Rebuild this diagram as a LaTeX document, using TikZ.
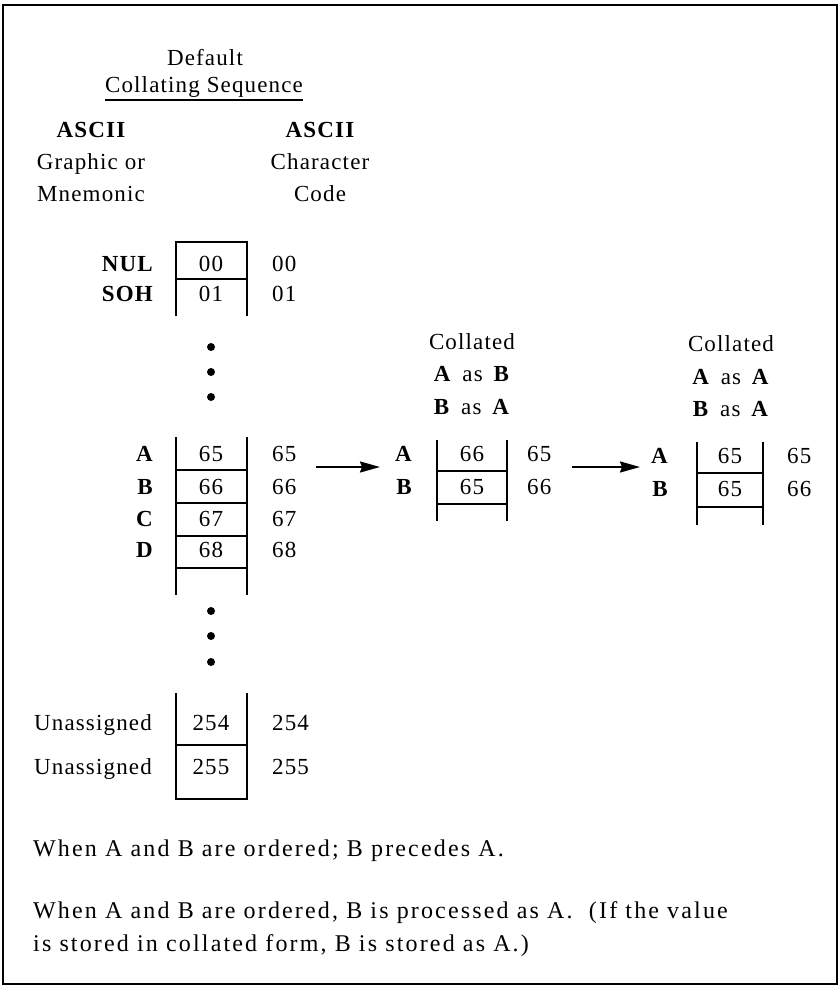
\documentclass[tikz,border=0pt]{standalone}
\usepackage{fontspec}
\setmainfont{Liberation Serif}[LetterSpace=5]
\newfontfamily\notefont{Liberation Serif}[LetterSpace=9]
\usetikzlibrary{arrows.meta}

\tikzset{
  txt/.style={font=\fontsize{23}{27}\selectfont,inner sep=0pt},
  hdr/.style={txt,anchor=base},
  rowlbl/.style={txt,anchor=base east,font=\fontsize{23}{27}\selectfont\bfseries},
  codeval/.style={txt,anchor=base west},
  cellnum/.style={txt,anchor=base},
  note/.style={inner sep=0pt,anchor=base west,font=\notefont\fontsize{24}{28}\selectfont},
  ladder/.style={line width=2pt},
  seqarrow/.style={line width=2pt,-{Stealth[length=20pt,width=11pt,inset=2pt]}}
}

\begin{document}
\begin{tikzpicture}[x=1pt,y=-1pt]
    \useasboundingbox(0,0)rectangle(839,986);
    \draw[line width=1.2pt](3,5)rectangle(837,984);
    % heading
    \node[hdr](dflt)at(205,65){Default};
    \node[hdr](colseq)at(204,92){Collating Sequence};
    \draw[line width=2pt]([yshift=-8pt]colseq.base west)--([yshift=-8pt]colseq.base east);
    \node[hdr](gfx1)at(91,137){\bfseries ASCII};
    \node[hdr](gfx2)at(91,169){Graphic or};
    \node[hdr](gfx3)at(91,201){Mnemonic};
    \node[hdr](chr1)at(320,137){\bfseries ASCII};
    \node[hdr](chr2)at(320,169){Character};
    \node[hdr](chr3)at(320,201){Code};
    % control characters
    \node[rowlbl](lnul)at(153,271){NUL};
    \node[cellnum](cnul)at(211,271){00};
    \node[codeval](vnul)at(272,271){00};
    \node[rowlbl](lsoh)at(153,301){SOH};
    \node[cellnum](csoh)at(211,301){01};
    \node[codeval](vsoh)at(272,301){01};
    \draw[ladder](176,316)--(176,242)--(247,242)--(247,316);
    \draw[ladder](176,279)--(247,279);
    \foreach \y in {347,372,397}
      \fill(211,\y)circle(4pt);
    % letters
    \foreach \ch/\num/\y in {A/65/461,B/66/494,C/67/526,D/68/557}{
      \node[rowlbl](l\ch)at(153,\y){\ch};
      \node[cellnum](c\ch)at(211,\y){\num};
      \node[codeval](v\ch)at(272,\y){\num};
    }
    \draw[ladder](176,437)--(176,595)(247,437)--(247,595);
    \foreach \y in {470,503,536,568}
      \draw[ladder](176,\y)--(247,\y);
    \foreach \y in {611,636,662}
      \fill(211,\y)circle(4pt);
    % unassigned codes
    \node[txt,anchor=base east](l254)at(152,730){Unassigned};
    \node[cellnum](c254)at(211,730){254};
    \node[codeval](v254)at(272,730){254};
    \node[txt,anchor=base east](l255)at(152,774){Unassigned};
    \node[cellnum](c255)at(211,774){255};
    \node[codeval](v255)at(272,774){255};
    \draw[ladder](176,693)--(176,799)--(247,799)--(247,693);
    \draw[ladder](176,745)--(247,745);
    % collated A as B
    \node[hdr](mid1)at(472,349){Collated};
    \node[hdr](mid2)at(472,381){\textbf{A}\, as\, \textbf{B}};
    \node[hdr](mid3)at(472,414){\textbf{B}\, as\, \textbf{A}};
    \node[rowlbl](mlA)at(412,461){A};
    \node[cellnum](mcA)at(472,461){66};
    \node[codeval](mvA)at(527,461){65};
    \node[rowlbl](mlB)at(412,494){B};
    \node[cellnum](mcB)at(472,494){65};
    \node[codeval](mvB)at(527,494){66};
    \draw[ladder](437,440)--(437,521)(507,440)--(507,521);
    \draw[ladder](437,471)--(507,471)(437,504)--(507,504);
    % collated A as A
    \node[hdr](rgt1)at(731,351){Collated};
    \node[hdr](rgt2)at(731,384){\textbf{A}\, as\, \textbf{A}};
    \node[hdr](rgt3)at(731,416){\textbf{B}\, as\, \textbf{A}};
    \node[rowlbl](rlA)at(668,463){A};
    \node[cellnum](rcA)at(730,463){65};
    \node[codeval](rvA)at(787,463){65};
    \node[rowlbl](rlB)at(668,496){B};
    \node[cellnum](rcB)at(730,496){65};
    \node[codeval](rvB)at(787,496){66};
    \draw[ladder](697,442)--(697,525)(763,442)--(763,525);
    \draw[ladder](697,473)--(763,473)(697,507)--(763,507);
    % arrows
    \coordinate(ar1s)at(316,467);
    \coordinate(ar1e)at(380,467);
    \coordinate(ar2s)at(572,467);
    \coordinate(ar2e)at(640,467);
    \draw[seqarrow](ar1s)--(ar1e);
    \draw[seqarrow](ar2s)--(ar2e);
    % notes
    \node[note](nt1)at(33,856){When A and B are ordered; B precedes A.};
    \node[note](nt2)at(33,918){When A and B are ordered, B is processed as A.\ \ (If the value};
    \node[note](nt3)at(33,951){is stored in collated form, B is stored as A.)};
\end{tikzpicture}
\end{document}
